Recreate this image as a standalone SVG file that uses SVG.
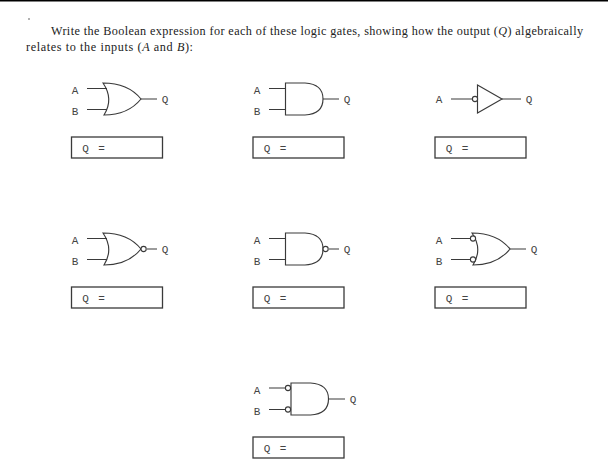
<svg xmlns="http://www.w3.org/2000/svg" width="608" height="476" viewBox="0 0 608 476">
<style>
.t{font-family:"Liberation Serif",serif;font-size:12.2px;fill:#222}
.t tspan{font-style:italic}
.l{font-family:"Liberation Mono",monospace;font-size:11px;fill:#444;text-anchor:middle}
.g{fill:none;stroke:#3a3a3a;stroke-width:1.15}
.b{fill:#fff;stroke:#3a3a3a;stroke-width:1.3}
.c{fill:#fff;stroke:#3a3a3a;stroke-width:1.1}
</style>
<defs>
<path id="or" class="g" d="M103 83Q128 83 141 99Q128 115 104 115Q114 99 103 83Z"/>
<path id="and" class="g" d="M285.5 83H305Q323 84 323 99Q323 114 305 115H285.5Z"/>
<g id="box"><rect class="b" x="0" y="0" width="91" height="21"/><text class="l" x="14" y="15">Q</text><text class="l" x="30" y="14.5">=</text></g>
</defs>
<rect x="0" y="0" width="608" height="1.5" fill="#000"/>
<rect x="28" y="18.5" width="2" height="1" fill="#666"/>
<text class="t" x="51" y="35" textLength="532" lengthAdjust="spacing">Write the Boolean expression for each of these logic gates, showing how the output (<tspan>Q</tspan>) algebraically</text>
<text class="t" x="26" y="51" textLength="167" lengthAdjust="spacing">relates to the inputs (<tspan>A</tspan> and <tspan>B</tspan>):</text>
<g id="connectors" class="g">
<path d="M87 88.5H107M87 109.5H107M141 99H157"/>
<path d="M269 88.5H285.5M269 109.5H285.5M323 99H339"/>
<path d="M451 99H472.5M502 99H521"/>
<path d="M87 238.5H107M87 259.5H107M147 249H157"/>
<path d="M269 238.5H285.5M269 259.5H285.5M329 249H339"/>
<path d="M451 238.5H470M451 259.5H470M510 249H526"/>
<path d="M269 388H285M269 409.5H285M329 399H345"/>
</g>
<g id="gate-or"><use href="#or"/><text class="l" x="75" y="93.5">A</text><text class="l" x="75" y="114.5">B</text><text class="l" x="165" y="103">Q</text><use href="#box" x="71.5" y="137"/></g>
<g id="gate-and"><use href="#and"/><text class="l" x="257" y="93.5">A</text><text class="l" x="257" y="114.5">B</text><text class="l" x="347" y="103">Q</text><use href="#box" x="253" y="137"/></g>
<g id="gate-not"><path class="g" d="M477.5 85L502 99L477.5 113Z"/><circle class="c" cx="475" cy="99" r="2.6"/><text class="l" x="439" y="103">A</text><text class="l" x="529" y="103">Q</text><use href="#box" x="435" y="137"/></g>
<g id="gate-nor"><use href="#or" y="150"/><circle class="c" cx="143.6" cy="249" r="2.6"/><text class="l" x="75" y="243.5">A</text><text class="l" x="75" y="264.5">B</text><text class="l" x="165" y="253">Q</text><use href="#box" x="71.5" y="287"/></g>
<g id="gate-nand"><use href="#and" y="150"/><circle class="c" cx="325.6" cy="249" r="2.6"/><text class="l" x="257" y="243.5">A</text><text class="l" x="257" y="264.5">B</text><text class="l" x="347" y="253">Q</text><use href="#box" x="253" y="287"/></g>
<g id="gate-neg-or"><use href="#or" x="369" y="150"/><circle class="c" cx="473" cy="238.5" r="2.6"/><circle class="c" cx="473" cy="259.5" r="2.6"/><text class="l" x="439" y="243.5">A</text><text class="l" x="439" y="264.5">B</text><text class="l" x="534" y="253">Q</text><use href="#box" x="435" y="287"/></g>
<g id="gate-neg-and"><use href="#and" x="5.5" y="300"/><circle class="c" cx="288" cy="388" r="2.6"/><circle class="c" cx="288" cy="409.5" r="2.6"/><text class="l" x="257" y="393.5">A</text><text class="l" x="257" y="414.5">B</text><text class="l" x="353" y="403">Q</text><use href="#box" x="253" y="437"/></g>
</svg>
